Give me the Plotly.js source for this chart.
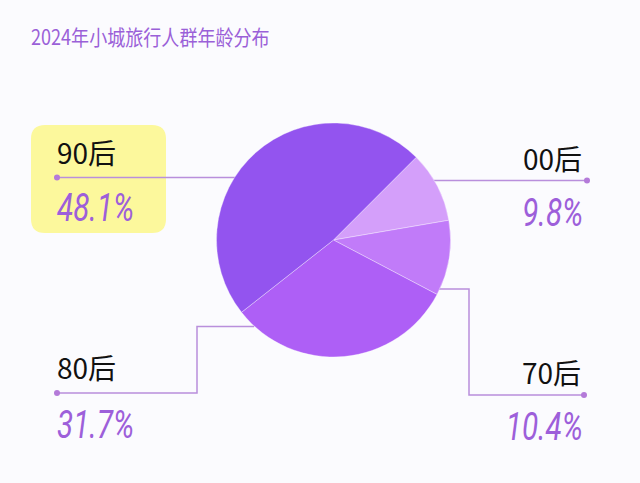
<!DOCTYPE html>
<html>
<head>
<meta charset="utf-8">
<script src="https://cdn.plot.ly/plotly-3.0.1.min.js"></script>
<style>
html,body{margin:0;padding:0;background:#fbfbfe;}
#chart{width:640px;height:483px;}
</style>
</head>
<body>
<div id="chart"></div>
<script>
// Data
var categories = ['00后', '70后', '80后', '90后'];
var shares = [9.8, 10.4, 31.7, 48.1];
var percentLabels = ['9.8%', '10.4%', '31.7%', '48.1%'];
var sliceColors = ['#d49ffa', '#c17bf9', '#ae5ff6', '#9354ef'];
var chartTitle = '2024年小城旅行人群年龄分布';

var W = 640, H = 483;
function px(x){ return x / W; }
function py(y){ return 1 - y / H; }

var cx = 333.5, cy = 240, R = 117;

var trace = {
  type: 'pie',
  labels: categories,
  values: shares,
  sort: false,
  direction: 'clockwise',
  rotation: 45,
  textinfo: 'none',
  hoverinfo: 'label+percent',
  marker: {colors: sliceColors, line: {color: 'rgba(255,255,255,0.35)', width: 1}},
  domain: {x: [px(cx - R), px(cx + R)], y: [py(cy + R), py(cy - R)]},
  showlegend: false
};

var lineColor = '#b98fdc';
var dotColor = '#b47ad9';
var shapes = [
  {type: 'path', xref: 'paper', yref: 'paper', layer: 'below',
   path: (function(){
     var x0 = 31, x1 = 166, y0 = 125, y1 = 233, r = 14;
     function P(x, y){ return px(x) + ',' + py(y); }
     return 'M' + P(x0 + r, y0) + ' L' + P(x1 - r, y0) + ' Q' + P(x1, y0) + ' ' + P(x1, y0 + r) +
       ' L' + P(x1, y1 - r) + ' Q' + P(x1, y1) + ' ' + P(x1 - r, y1) +
       ' L' + P(x0 + r, y1) + ' Q' + P(x0, y1) + ' ' + P(x0, y1 - r) +
       ' L' + P(x0, y0 + r) + ' Q' + P(x0, y0) + ' ' + P(x0 + r, y0) + ' Z';
   })(),
   fillcolor: '#fcf89c', line: {width: 0}},
  {type: 'line', xref: 'paper', yref: 'paper', layer: 'below', x0: px(57), y0: py(177.5), x1: px(236), y1: py(177.5), line: {color: lineColor, width: 1.5}},
  {type: 'line', xref: 'paper', yref: 'paper', layer: 'below', x0: px(432), y0: py(180.5), x1: px(587), y1: py(180.5), line: {color: lineColor, width: 1.5}},
  {type: 'path', xref: 'paper', yref: 'paper', layer: 'below',
   path: 'M' + px(57) + ',' + py(393) + ' L' + px(197) + ',' + py(393) + ' L' + px(197) + ',' + py(326.5) + ' L' + px(254) + ',' + py(326.5),
   line: {color: lineColor, width: 1.5}},
  {type: 'path', xref: 'paper', yref: 'paper', layer: 'below',
   path: 'M' + px(438) + ',' + py(289) + ' L' + px(469) + ',' + py(289) + ' L' + px(469) + ',' + py(395) + ' L' + px(584) + ',' + py(395),
   line: {color: lineColor, width: 1.5}}
];
[[57, 177.5], [587, 180.5], [57, 393], [584, 395]].forEach(function(d){
  shapes.push({type: 'circle', xref: 'paper', yref: 'paper', layer: 'above',
    x0: px(d[0] - 3), x1: px(d[0] + 3), y0: py(d[1] + 3), y1: py(d[1] - 3),
    fillcolor: dotColor, line: {width: 0}});
});

var nameFont = {family: 'Noto Sans CJK SC, Noto Sans, sans-serif', size: 28, color: '#111111'};
var pctFont = {family: 'Roboto, sans-serif', size: 38, color: '#9d5fda', style: 'italic', weight: 400};

var namePos = [[584, 158, 'right'], [583, 372, 'right'], [55, 367, 'left'], [55, 152, 'left']];
var pctPos = [[585, 213, 'right'], [585, 427, 'right'], [55, 425, 'left'], [55, 208, 'left']];

var annotations = [];
categories.forEach(function(c, i){
  annotations.push({xref: 'paper', yref: 'paper', x: px(namePos[i][0]), y: py(namePos[i][1]),
    xanchor: namePos[i][2], yanchor: 'middle', text: c, showarrow: false, font: nameFont});
  annotations.push({xref: 'paper', yref: 'paper', x: px(pctPos[i][0]), y: py(pctPos[i][1]),
    xanchor: pctPos[i][2], yanchor: 'middle', text: percentLabels[i], showarrow: false, font: pctFont});
});

var layout = {
  width: W, height: H,
  margin: {l: 0, r: 0, t: 0, b: 0},
  paper_bgcolor: '#fbfbfe',
  plot_bgcolor: '#fbfbfe',
  title: {text: chartTitle, x: px(31), xanchor: 'left', y: py(38), yanchor: 'middle',
    font: {family: 'Noto Sans CJK SC, sans-serif', size: 21, color: '#9a60d8'}},
  shapes: shapes,
  annotations: annotations
};

function condense(el, s, anchorRight){
  var b = el.getBBox();
  var ax = anchorRight ? b.x + b.width : b.x;
  el.setAttribute('transform', 'translate(' + ax + ',0) scale(' + s + ',1) translate(' + (-ax) + ',0)');
}

Plotly.newPlot('chart', [trace], layout, {displayModeBar: false, staticPlot: true}).then(function(gd){
  var texts = gd.querySelectorAll('.annotation-text');
  texts.forEach(function(t){
    if (t.textContent.indexOf('%') >= 0) {
      var r = t.getBoundingClientRect();
      var right = (r.left + r.width / 2) > W / 2;
      condense(t, 0.78, right);
    }
  });
  var tt = gd.querySelector('.gtitle');
  if (tt) condense(tt, 0.86, false);
});
</script>
</body>
</html>
